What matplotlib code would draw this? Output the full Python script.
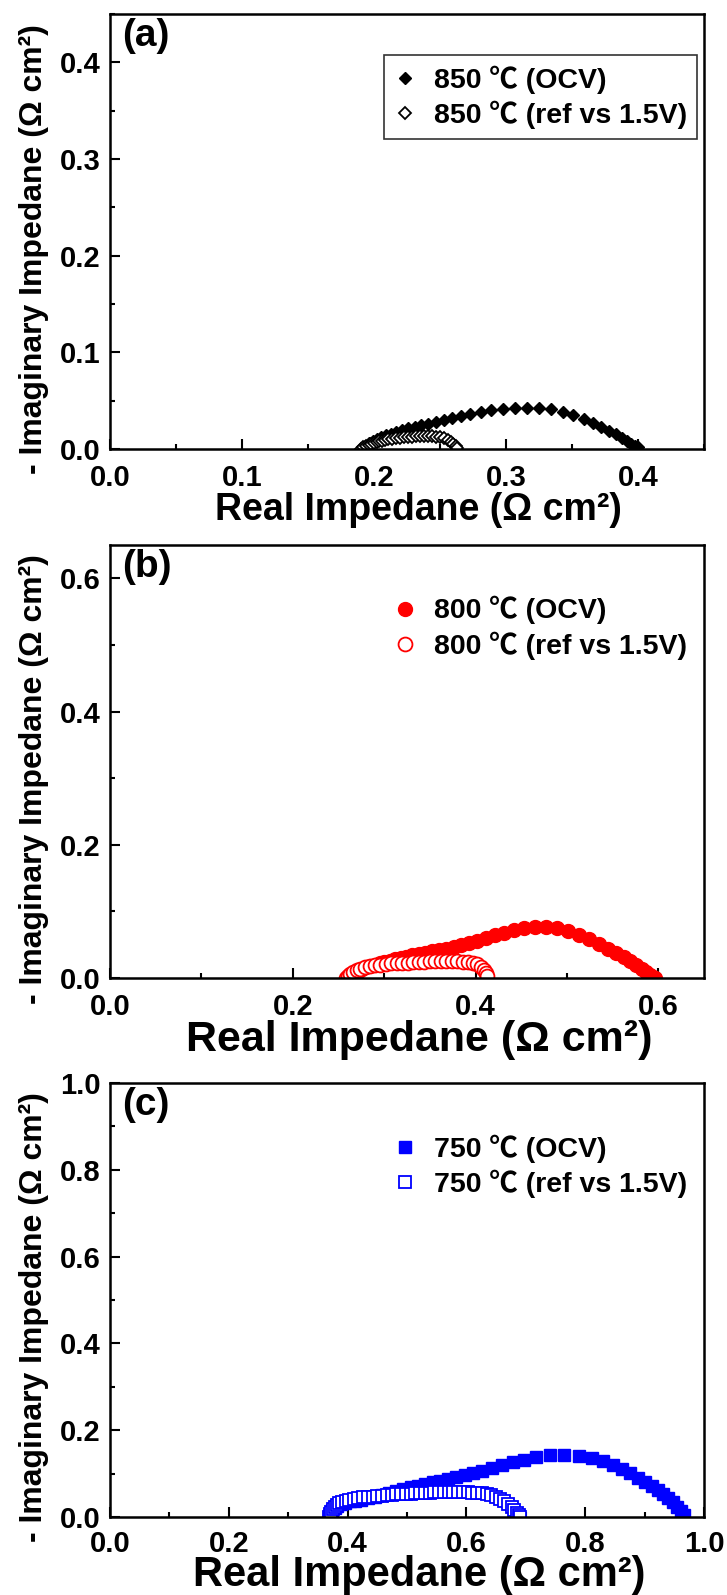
import matplotlib.pyplot as plt
from matplotlib.ticker import MultipleLocator

plt.rcParams['font.family'] = ['Liberation Sans', 'Noto Sans CJK SC', 'DejaVu Sans']
plt.rcParams['font.weight'] = 'bold'
plt.rcParams['axes.labelweight'] = 'bold'

# 850 C, OCV and ref vs 1.5 V
x850_ocv = [0.190, 0.193, 0.196, 0.199, 0.202, 0.205, 0.209, 0.213, 0.217, 0.221,
            0.226, 0.231, 0.236, 0.241, 0.247, 0.253, 0.259, 0.266, 0.273, 0.281,
            0.289, 0.298, 0.307, 0.316, 0.325, 0.334, 0.343, 0.351, 0.359, 0.366,
            0.372, 0.378, 0.383, 0.388, 0.392, 0.395, 0.398, 0.400]
y850_ocv = [0.000, 0.003, 0.006, 0.008, 0.010, 0.012, 0.014, 0.016, 0.018, 0.020,
            0.022, 0.023, 0.025, 0.026, 0.028, 0.030, 0.032, 0.034, 0.036, 0.038,
            0.040, 0.041, 0.042, 0.042, 0.042, 0.041, 0.038, 0.035, 0.031, 0.027,
            0.023, 0.019, 0.015, 0.011, 0.008, 0.005, 0.003, 0.002]
x850_ref = [0.190, 0.192, 0.194, 0.196, 0.198, 0.200, 0.202, 0.204, 0.206, 0.208,
            0.211, 0.214, 0.217, 0.220, 0.223, 0.226, 0.229, 0.232, 0.235, 0.238,
            0.241, 0.244, 0.247, 0.250, 0.253, 0.256, 0.258, 0.260, 0.262, 0.263]
y850_ref = [0.000, 0.002, 0.003, 0.004, 0.005, 0.006, 0.007, 0.008, 0.008, 0.009,
            0.010, 0.010, 0.011, 0.011, 0.012, 0.012, 0.012, 0.013, 0.013, 0.013,
            0.013, 0.013, 0.012, 0.012, 0.011, 0.009, 0.007, 0.005, 0.003, 0.001]

# 800 C
x800_ocv = [0.262, 0.265, 0.268, 0.272, 0.276, 0.280, 0.285, 0.290, 0.295, 0.300,
            0.306, 0.312, 0.318, 0.324, 0.331, 0.338, 0.345, 0.352, 0.360, 0.368,
            0.376, 0.384, 0.393, 0.402, 0.411, 0.421, 0.431, 0.442, 0.453, 0.465,
            0.477, 0.489, 0.501, 0.513, 0.524, 0.535, 0.545, 0.554, 0.562, 0.569,
            0.576, 0.582, 0.587, 0.591, 0.594, 0.596]
y800_ocv = [0.000, 0.004, 0.008, 0.011, 0.014, 0.016, 0.018, 0.020, 0.022, 0.024,
            0.026, 0.028, 0.030, 0.032, 0.034, 0.036, 0.038, 0.040, 0.042, 0.044,
            0.047, 0.050, 0.053, 0.056, 0.060, 0.064, 0.068, 0.072, 0.075, 0.077,
            0.077, 0.075, 0.071, 0.065, 0.058, 0.051, 0.044, 0.037, 0.031, 0.025,
            0.019, 0.014, 0.009, 0.005, 0.002, 0.000]
x800_ref = [0.258, 0.260, 0.263, 0.266, 0.270, 0.274, 0.279, 0.284, 0.290, 0.296,
            0.302, 0.308, 0.314, 0.320, 0.326, 0.332, 0.338, 0.344, 0.350, 0.356,
            0.362, 0.368, 0.374, 0.380, 0.386, 0.392, 0.397, 0.402, 0.406, 0.409,
            0.411, 0.413]
y800_ref = [0.000, 0.003, 0.006, 0.009, 0.012, 0.014, 0.016, 0.018, 0.019, 0.020,
            0.021, 0.022, 0.022, 0.023, 0.023, 0.024, 0.024, 0.024, 0.025, 0.025,
            0.025, 0.025, 0.025, 0.025, 0.024, 0.024, 0.023, 0.021, 0.017, 0.012,
            0.007, 0.003]

# 750 C
x750_ocv = [0.368, 0.371, 0.374, 0.378, 0.383, 0.389, 0.396, 0.404, 0.413, 0.423,
            0.434, 0.446, 0.458, 0.470, 0.482, 0.494, 0.506, 0.518, 0.530, 0.543,
            0.556, 0.569, 0.583, 0.597, 0.612, 0.627, 0.643, 0.660, 0.678, 0.697,
            0.718, 0.741, 0.765, 0.789, 0.811, 0.830, 0.847, 0.862, 0.876, 0.889,
            0.901, 0.912, 0.922, 0.931, 0.940, 0.948, 0.955, 0.961, 0.966]
y750_ocv = [0.000, 0.008, 0.015, 0.021, 0.026, 0.030, 0.033, 0.036, 0.038, 0.040,
            0.043, 0.047, 0.051, 0.056, 0.060, 0.064, 0.068, 0.072, 0.076, 0.080,
            0.084, 0.088, 0.092, 0.097, 0.101, 0.106, 0.114, 0.120, 0.126, 0.132,
            0.138, 0.142, 0.143, 0.141, 0.136, 0.129, 0.120, 0.111, 0.101, 0.091,
            0.081, 0.071, 0.062, 0.053, 0.043, 0.034, 0.024, 0.014, 0.005]
x750_ref = [0.368, 0.370, 0.372, 0.375, 0.378, 0.382, 0.386, 0.391, 0.397, 0.403,
            0.410, 0.418, 0.426, 0.434, 0.442, 0.450, 0.458, 0.466, 0.474, 0.482,
            0.490, 0.498, 0.506, 0.514, 0.522, 0.530, 0.538, 0.546, 0.554, 0.562,
            0.570, 0.578, 0.586, 0.594, 0.602, 0.610, 0.618, 0.626, 0.634, 0.642,
            0.650, 0.657, 0.664, 0.670, 0.676, 0.681, 0.685, 0.688, 0.690]
y750_ref = [0.000, 0.006, 0.012, 0.018, 0.023, 0.028, 0.032, 0.035, 0.038, 0.040,
            0.042, 0.044, 0.045, 0.046, 0.047, 0.048, 0.049, 0.050, 0.051, 0.052,
            0.053, 0.053, 0.054, 0.055, 0.055, 0.056, 0.056, 0.057, 0.057, 0.057,
            0.057, 0.057, 0.057, 0.057, 0.057, 0.056, 0.056, 0.055, 0.053, 0.050,
            0.046, 0.042, 0.036, 0.029, 0.022, 0.015, 0.009, 0.004, 0.000]

temps = ['850', '800', '750']
tags = ['(a)', '(b)', '(c)']
colors = ['black', 'red', 'blue']
markers = ['D', 'o', 's']
msizes = [6.5, 10, 9]
xmax = [0.45, 0.65, 1.0]
ymax = [0.45, 0.65, 1.0]
major = [0.1, 0.2, 0.2]
xlabel_size = [27, 31, 30]
xlabel_y = [-0.100, -0.097, -0.088]
xtick_pad = [10.5, 10.5, 9.5]

series = [
    (x850_ocv, y850_ocv, x850_ref, y850_ref),
    (x800_ocv, y800_ocv, x800_ref, y800_ref),
    (x750_ocv, y750_ocv, x750_ref, y750_ref),
]

# axes boxes in figure fractions (left, bottom, width, height)
boxes = [
    (0.1513, 0.7185, 0.817, 0.2727),
    (0.1513, 0.3868, 0.817, 0.2715),
    (0.1513, 0.0489, 0.817, 0.2721),
]

fig = plt.figure(figsize=(7.27, 15.95), dpi=100)

for i in range(3):
    ax = fig.add_axes(boxes[i])
    xo, yo, xr, yr = series[i]
    c = colors[i]
    ax.plot(xo, yo, linestyle='none', marker=markers[i], ms=msizes[i],
            color=c, mec=c, label=f'{temps[i]} ℃ (OCV)')
    ax.plot(xr, yr, linestyle='none', marker=markers[i], ms=msizes[i],
            color=c, mfc='white', mec=c, mew=1.3,
            label=f'{temps[i]} ℃ (ref vs 1.5V)')

    ax.set_xlim(0, xmax[i])
    ax.set_ylim(0, ymax[i])
    ax.xaxis.set_major_locator(MultipleLocator(major[i]))
    ax.yaxis.set_major_locator(MultipleLocator(major[i]))
    ax.xaxis.set_minor_locator(MultipleLocator(major[i] / 2))
    ax.yaxis.set_minor_locator(MultipleLocator(major[i] / 2))
    ax.xaxis.set_major_formatter(plt.FormatStrFormatter('%.1f'))
    ax.yaxis.set_major_formatter(plt.FormatStrFormatter('%.1f'))

    for sp in ax.spines.values():
        sp.set_linewidth(1.8)
    ax.tick_params(which='both', direction='in', top=False, right=False, width=1.5)
    ax.tick_params(which='major', length=7, labelsize=21)
    ax.tick_params(which='minor', length=3.5)
    ax.tick_params(axis='x', which='major', pad=xtick_pad[i])
    ax.tick_params(axis='y', which='major', pad=7)

    ax.set_xlabel('Real Impedane (Ω cm²)', fontsize=xlabel_size[i])
    ax.xaxis.set_label_coords(0.52, xlabel_y[i])
    ax.set_ylabel('- Imaginary Impedane (Ω cm²)', fontsize=23, va='center')
    ax.yaxis.set_label_coords(-0.128, 0.46)

    ax.text(0.02, 0.99, tags[i], transform=ax.transAxes, fontsize=28,
            va='top', ha='left')

    leg = ax.legend(loc='upper right', bbox_to_anchor=(0.988, 0.905),
                    fontsize=20.5, frameon=(i == 0), fancybox=False,
                    edgecolor='black', handlelength=0.8, handletextpad=0.6,
                    borderpad=0.35, labelspacing=0.25, borderaxespad=0)
    leg.get_frame().set_linewidth(1.2)

fig.savefig('out.png', dpi=100)
